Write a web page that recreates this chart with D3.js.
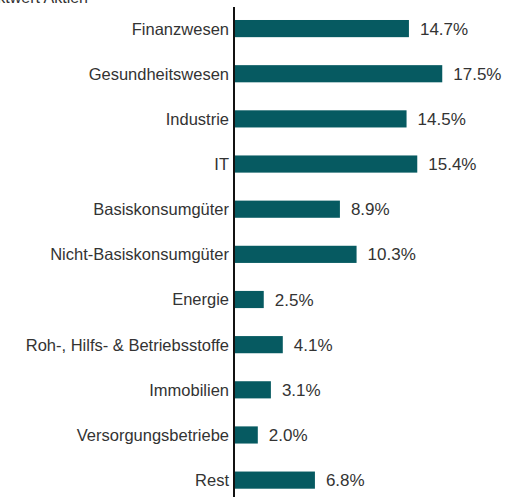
<!DOCTYPE html>
<meta charset="utf-8">
<script src="https://d3js.org/d3.v7.min.js"></script>
<style>
body { margin: 0; background: #fff; }
text { font-family: "Liberation Sans", Arial, sans-serif; fill: #333; }
</style>
<body>
<div id="canvas"></div>
<script>
    // Sektoren und Gewichte in %
    var categories = ["Finanzwesen", "Gesundheitswesen", "Industrie", "IT", "Basiskonsumgüter",
        "Nicht-Basiskonsumgüter", "Energie", "Roh-, Hilfs- & Betriebsstoffe", "Immobilien",
        "Versorgungsbetriebe", "Rest"];
    var values = [14.7, 17.5, 14.5, 15.4, 8.9, 10.3, 2.5, 4.1, 3.1, 2.0, 6.8];
    var title = "Marktwert Aktien";

    var width = 505, height = 497;
    var axisX = 234;

    var svg = d3.select("#canvas").append("svg")
        .attr("width", width)
        .attr("height", height);

    // titel ist oben abgeschnitten
    svg.append("text")
        .attr("x", 88)
        .attr("y", 3)
        .attr("text-anchor", "end")
        .style("font-size", "16px")
        .text(title);

    var y = d3.scaleBand()
        .domain(categories)
        .range([6, 502.7])
        .paddingInner(0.62)
        .paddingOuter(0.31);

    var x = d3.scaleLinear()
        .domain([0, 20])
        .range([axisX, axisX + 11.9 * 20]);

    var data = categories.map(function(c, i) { return {cat: c, value: values[i]}; });

    svg.selectAll("rect.bar")
        .data(data)
        .enter().append("rect")
        .attr("class", "bar")
        .attr("x", x(0))
        .attr("y", function(d) { return y(d.cat); })
        .attr("width", function(d) { return x(d.value) - x(0); })
        .attr("height", y.bandwidth())
        .attr("fill", "#065a61");

    // kategorien links
    svg.selectAll("text.cat")
        .data(data)
        .enter().append("text")
        .attr("class", "cat")
        .attr("x", axisX - 5)
        .attr("y", function(d) { return y(d.cat) + y.bandwidth() / 2; })
        .attr("dy", "0.36em")
        .attr("text-anchor", "end")
        .style("font-size", "16.5px")
        .text(function(d) { return d.cat; });

    // werte rechts
    svg.selectAll("text.val")
        .data(data)
        .enter().append("text")
        .attr("class", "val")
        .attr("x", function(d) { return x(d.value) + 11; })
        .attr("y", function(d) { return y(d.cat) + y.bandwidth() / 2; })
        .attr("dy", "0.36em")
        .style("font-size", "17px")
        .text(function(d) { return d.value.toFixed(1) + "%"; });

    // achse
    svg.append("line")
        .attr("x1", axisX).attr("x2", axisX)
        .attr("y1", 7).attr("y2", height)
        .attr("stroke", "#111")
        .attr("stroke-width", 2);
</script>
</body>
